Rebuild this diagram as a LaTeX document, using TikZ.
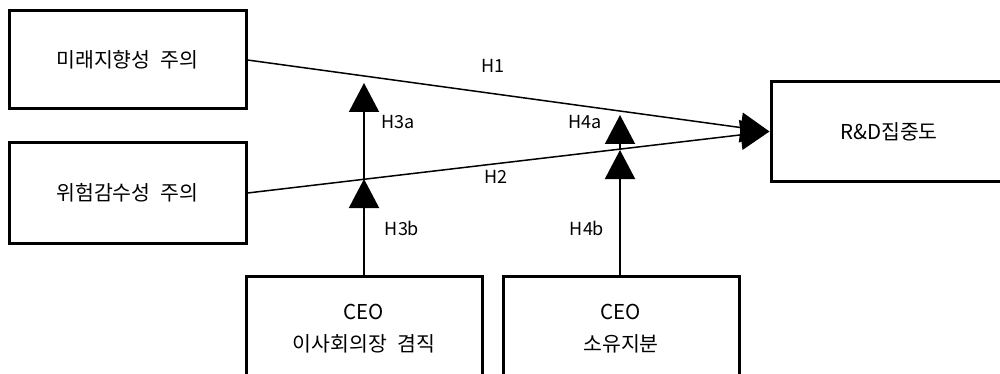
\documentclass[tikz,border=0pt]{standalone}
\usepackage{fontspec}
\setmainfont{Noto Sans CJK KR}
\usetikzlibrary{arrows.meta}
\newcommand{\ksp}{\hspace{0.5em}}
\begin{document}
\begin{tikzpicture}[x=1pt,y=-1pt,
  box/.style={draw,line width=3pt,minimum width=#1,inner sep=0pt,font=\fontsize{20.5}{32}\selectfont,align=center},
  box/.default={237pt},
  lbl/.style={font=\fontsize{18}{20}\selectfont,inner sep=0pt},
  conn/.style={line width=1.5pt,-{Triangle[length=29pt,width=30pt]}},
  vconn/.style={line width=2pt,-{Triangle[length=29pt,width=30pt]}}]
\useasboundingbox (0,0) rectangle (1000,374);
\begin{scope}
\clip (0,0) rectangle (1000,374);
\node[box,minimum height=98pt] (fo) at (127.5,60) {미래지향성\ksp 주의};
\node[box,minimum height=100pt] (rs) at (127.5,193) {위험감수성\ksp 주의};
\node[box=236pt,minimum height=99pt] (rd) at (889,131.5) {R\&D집중도};
\node[box=236pt,minimum height=106pt] (dual) at (364,329) {CEO\\이사회의장\ksp 겸직};
\node[box=236pt,minimum height=106pt] (own) at (621,329) {CEO\\소유지분};
\coordinate (h3top) at (364,83);
\coordinate (h3mid) at (364,179);
\coordinate (h4top) at (620,115);
\coordinate (h4mid) at (620,150);
\draw[conn] (fo.east) -- (rd.west);
\draw[conn] (rs.east) -- (rd.west);
\draw[vconn] (dual.north) -- (h3mid);
\draw[vconn] (h3mid) -- (h3top);
\draw[vconn] (own.north -| h4mid) -- (h4mid);
\draw[vconn] (h4mid) -- (h4top);
\node[lbl] (l1) at (493,66) {H1};
\node[lbl] (l2) at (496,177) {H2};
\node[lbl] (l3a) at (398,122) {H3a};
\node[lbl] (l4a) at (585,122) {H4a};
\node[lbl] (l3b) at (402,228) {H3b};
\node[lbl] (l4b) at (587,228) {H4b};
\end{scope}
\end{tikzpicture}
\end{document}
